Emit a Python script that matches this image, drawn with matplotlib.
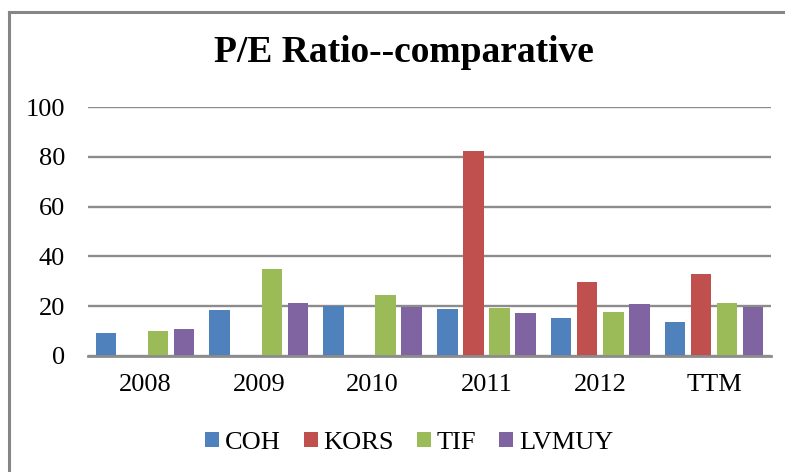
import numpy as np
import matplotlib.pyplot as plt
from matplotlib.lines import Line2D

#### Data
categories = ['2008', '2009', '2010', '2011', '2012', 'TTM']
series = ['COH', 'KORS', 'TIF', 'LVMUY']
coh   = [9.4, 18.3, 20.0, 19.0, 15.1, 13.6]
kors  = [0.0, 0.0, 0.0, 82.3, 29.8, 33.0]
tif   = [10.2, 35.0, 24.3, 19.1, 17.6, 21.1]
lvmuy = [11.0, 21.1, 19.8, 17.4, 20.7, 19.7]
colors = ['#4F81BD', '#C0504D', '#9BBB59', '#8064A2']

#### Plot settings
plt.rcParams['font.family'] = ['Liberation Serif', 'DejaVu Serif']

fig = plt.figure(figsize=(7.85, 4.72), dpi=100)
ax = fig.add_axes([88/785, 1-356/472, (771-88)/785, (356-107)/472])

x = np.arange(len(categories))
step = 0.2285
width = 0.18
for i, (name, vals) in enumerate(zip(series, [coh, kors, tif, lvmuy])):
    ax.bar(x + (i-1.5)*step, vals, width=width, color=colors[i], label=name, zorder=3)

ax.set_xlim(-0.5, len(categories)-0.5)
ax.set_ylim(0, 100)
ax.set_yticks(range(0, 101, 20))
ax.yaxis.grid(True, color='#8c8c8c', linewidth=1.7, zorder=0)
for s in ['top', 'right', 'left']:
    ax.spines[s].set_visible(False)
ax.spines['bottom'].set_color('#8c8c8c')
ax.spines['bottom'].set_linewidth(2)
ax.spines['bottom'].set_zorder(4)
ax.set_xticks(x)
ax.set_xticklabels(categories)
ax.tick_params(axis='both', length=0, labelsize=19)
ax.tick_params(axis='x', pad=13)
ax.tick_params(axis='y', pad=16.5)

fig.text(0.515, 1-53/472, 'P/E Ratio--comparative', ha='center', va='center',
         fontsize=27, fontweight='bold')

fig.legend(loc='center', bbox_to_anchor=(0.5215, 1-443/472), ncol=4, frameon=False,
           fontsize=19, handlelength=0.53, handleheight=0.53, handletextpad=0.22,
           columnspacing=0.87)

#### Frame lines (chart border, cropped)
fig.add_artist(Line2D([8.5/785, 8.5/785], [0, 1-11.5/472], color='#868686', lw=2.2, transform=fig.transFigure))
fig.add_artist(Line2D([8.5/785, 1], [1-11.5/472, 1-11.5/472], color='#868686', lw=2.2, transform=fig.transFigure))

fig.savefig('out.png', dpi=100)
